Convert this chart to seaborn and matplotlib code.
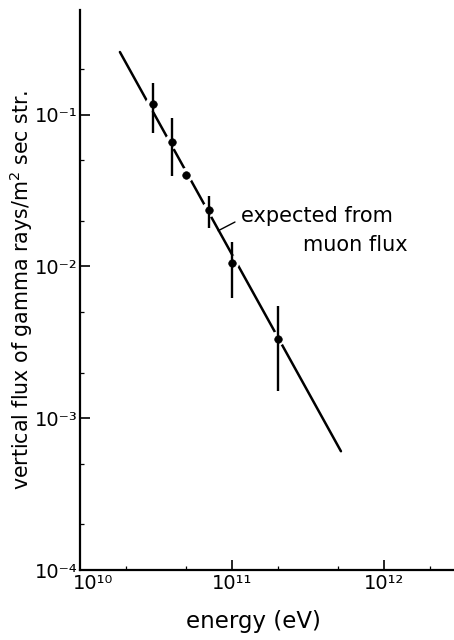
import numpy as np
import pandas as pd
import matplotlib
matplotlib.use("Agg")
import matplotlib.pyplot as plt
import matplotlib.transforms as mtransforms
import seaborn as sns
from matplotlib.ticker import LogLocator, FuncFormatter, NullFormatter

# ---- data ----
energy = [3.0e10, 4.0e10, 5.0e10, 7.0e10, 1.0e11, 2.0e11]
flux = [0.117, 0.066, 0.040, 0.0235, 0.0106, 0.00335]
flux_hi = [0.162, 0.095, np.nan, 0.0292, 0.0146, 0.0055]
flux_lo = [0.0757, 0.0396, np.nan, 0.0179, 0.0062, 0.00151]

line_energy = [1.83e10, 5.2e11]
line_flux = [0.259, 6.06e-4]

annot_point = (8.1e10, 0.0172)
annot_text_pos = (1.14e11, 0.0215)
annot_text2_pos = (1.42e12, 0.0139)

SUP = str.maketrans("-0123456789", "⁻⁰¹²³⁴⁵⁶⁷⁸⁹")


def pow10(v, pos=None):
    e = int(round(np.log10(v)))
    return "10" + str(e).translate(SUP)


sns.set_style("ticks")
plt.rcParams['font.family'] = ['DejaVu Sans']
plt.rcParams['mathtext.default'] = 'regular'
for k in ("text.color", "axes.labelcolor", "xtick.color", "ytick.color"):
    plt.rcParams[k] = "black"

fig = plt.figure(figsize=(4.54, 6.40), dpi=100)
ax = fig.add_axes([80/454, 70/640, 374/454, 560/640])

pts = pd.DataFrame({"energy": energy, "flux": flux, "hi": flux_hi, "lo": flux_lo})
line_df = pd.DataFrame({"energy": line_energy, "flux": line_flux})

# expected line
sns.lineplot(data=line_df, x="energy", y="flux", ax=ax, color="black", lw=1.8, zorder=2)
# gaps around points
sns.scatterplot(data=pts, x="energy", y="flux", ax=ax, s=110, color="white",
                edgecolor="none", zorder=3)
# error bars
eb = pts.dropna()
ax.vlines(eb["energy"], eb["lo"], eb["hi"], color="black", lw=1.7, zorder=4)
# points
sns.scatterplot(data=pts, x="energy", y="flux", ax=ax, s=30, color="black",
                edgecolor="black", zorder=5)

ax.set_xscale("log")
ax.set_yscale("log")
ax.set_xlim(1e10, 2.88e12)
ax.set_ylim(1e-4, 0.49)

ax.xaxis.set_major_locator(LogLocator(base=10, numticks=10))
ax.yaxis.set_major_locator(LogLocator(base=10, numticks=10))
ax.xaxis.set_minor_locator(LogLocator(base=10, subs=[2, 5], numticks=10))
ax.yaxis.set_minor_locator(LogLocator(base=10, subs=[2, 5], numticks=10))
ax.xaxis.set_major_formatter(FuncFormatter(pow10))
ax.yaxis.set_major_formatter(FuncFormatter(pow10))
ax.xaxis.set_minor_formatter(NullFormatter())
ax.yaxis.set_minor_formatter(NullFormatter())

ax.tick_params(which="major", direction="in", length=7, width=1.2, labelsize=14,
               colors="black", pad=3)
ax.tick_params(axis="y", which="major", pad=2)
ax.tick_params(which="minor", direction="in", length=3, width=0.9)

sns.despine(ax=ax)
for s in ("left", "bottom"):
    ax.spines[s].set_linewidth(1.6)
    ax.spines[s].set_color("black")

ax.set_xlabel("energy (eV)", fontsize=16.5)
ax.xaxis.set_label_coords(0.465, -0.072)
ax.set_ylabel("vertical flux of gamma rays/m$^2$ sec str.", fontsize=14.8)
ax.yaxis.set_label_coords(-0.12, 0.5)

ax.annotate("expected from", xy=annot_point, xytext=annot_text_pos,
            textcoords="data", ha="left", va="center", fontsize=15,
            arrowprops=dict(arrowstyle="-", color="black", lw=1.0,
                            shrinkA=2, shrinkB=0, relpos=(0, 0.35)))
ax.text(annot_text2_pos[0], annot_text2_pos[1], "muon flux", ha="right",
        va="center", fontsize=15)

fig.canvas.draw()
shift = mtransforms.ScaledTranslation(-7/100, 0, fig.dpi_scale_trans)
for tick in ax.xaxis.get_major_ticks():
    if np.isclose(tick.get_loc(), 1e10):
        tick.label1.set_horizontalalignment("left")
        tick.label1.set_transform(tick.label1.get_transform() + shift)

fig.savefig("out.png", dpi=100, facecolor="white")
